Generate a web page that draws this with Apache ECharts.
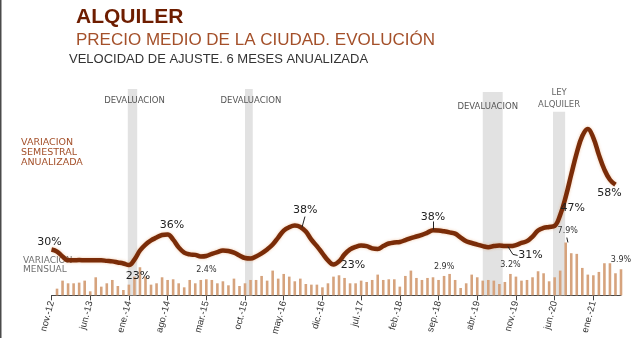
<!DOCTYPE html>
<html><head><meta charset="utf-8">
<script src="https://cdn.jsdelivr.net/npm/echarts@6/dist/echarts.min.js"></script>
<style>html,body{margin:0;padding:0;background:#fff;}#c{width:640px;height:338px;}</style>
</head><body><div id="c"></div>
<script>
// ---- categories: monthly, nov-12 .. jun-21
const MONTH_NAMES = ['ene','feb','mar','abr','may','jun','jul','ago','sep','oct','nov','dic'];
const FIRST_MONTH = 10, FIRST_YEAR = 2012, N_MONTHS = 104;
const categories = [];
for (let k = 0; k < N_MONTHS; k++) {
  const m = (FIRST_MONTH + k) % 12, y = FIRST_YEAR + Math.floor((FIRST_MONTH + k) / 12);
  categories.push(MONTH_NAMES[m] + '.-' + String(y).slice(2));
}

// ---- Variación semestral anualizada (%), nov-12 .. may-21
const semestral = [
 28.7,27.9,26.0,24.5,24.5,24.6,24.5,24.5,24.5,24.5,24.3,24.1,23.7,23.3,22.7,
 24.8,28.3,30.6,32.2,33.3,34.3,34.5,32.5,29.5,27.5,26.8,26.6,26.0,26.2,27.0,
 27.7,28.3,28.1,27.5,26.4,25.4,25.2,26.0,27.2,28.7,30.6,33.3,36.0,37.3,37.9,
 37.4,35.6,32.5,30.0,27.2,24.5,22.9,24.1,26.8,28.7,29.7,30.2,30.0,29.1,28.9,
 30.0,31.0,31.4,31.6,32.3,33.1,33.7,34.3,35.2,36.1,36.0,35.7,35.3,34.8,33.3,
 31.9,31.2,30.6,30.0,29.6,30.0,30.2,30.0,30.0,30.4,31.2,31.9,33.7,36.0,37.0,
 37.4,37.8,42.0,49.0,57.6,66.0,72.5,75.2,71.8,65.2,59.5,55.6,53.7
];
// ---- Variación mensual (%), dic-12 .. jun-21
const mensual = [
 1.0,2.2,1.8,1.8,1.9,2.2,0.6,2.7,1.3,1.8,2.3,1.4,0.8,1.6,2.8,4.2,2.8,1.6,1.8,2.7,
 2.3,2.4,1.8,1.2,2.3,1.8,2.3,2.4,2.3,1.8,2.1,1.5,2.5,1.4,1.8,2.3,2.3,2.9,2.2,3.7,
 2.5,3.2,2.8,2.1,2.5,1.7,1.6,1.6,1.2,1.8,2.8,3.0,2.6,1.8,1.8,2.2,2.0,2.3,3.1,2.3,
 2.4,2.4,1.3,2.9,3.7,2.6,2.3,2.6,2.7,2.3,2.9,3.2,2.3,1.1,1.8,3.1,2.7,2.2,2.3,2.2,
 1.7,2.0,3.2,2.8,2.2,2.3,2.7,3.6,3.3,2.1,2.7,3.7,7.9,6.3,6.2,4.1,3.1,3.0,3.5,4.8,
 4.8,3.3,3.9
];
// ---- point labels
const lineLabelIdx  = [0, 20, 14, 45, 51, 69, 82, 93, 102];
const lineLabelText = ['30%','36%','23%','38%','23%','38%','31%','47%','58%'];
const barLabelIdx   = [28, 71, 83, 93, 103];
const barLabelText  = ['2.4%','2.9%','3.2%','7.9%','3.9%'];
// ---- events (month position, fractional index from nov-12)
const eventNames = ['DEVALUACION','DEVALUACION','DEVALUACION','LEY\nALQUILER'];
const eventStart = [13.8, 35.0, 78.0, 90.7];
const eventEnd   = [15.5, 36.4, 81.6, 92.9];

// ---- styling / layout (not data)
const lineLabelOffsets = {0:[-2,-7],20:[10,-10],14:[9,11],45:[5,-17],51:[19.5,1],69:[0,-13],82:[25.5,9.5],93:[7,11],102:[-6,8]};
const bandTops = [90.6, 90.6, 89.5, 81.8];
// leader lines for labels (x: month position, y: semestral-axis units)
const leaders = [
  [[45.84, 41.4], [45.3, 37.2]],
  [[69.0, 39.5], [69.0, 36.4]],
  [[82.55, 29.85], [83.45, 26.8]],
  [[83.45, 26.8], [84.3, 26.4]],
  [[93.2, 33.3], [93.4, 31.4]]
];

const lineData = semestral.map((v, i) => {
  const k = lineLabelIdx.indexOf(i);
  if (k < 0) return v;
  return { value: v, label: { show: true, formatter: lineLabelText[k] } };
});
const barData = [null].concat(mensual).map((v, i) => {
  const k = barLabelIdx.indexOf(i);
  if (k < 0) return v;
  return { value: v, label: { show: true, formatter: barLabelText[k] } };
});

const bands = eventNames.map((n, k) => {
  const lbl = k === 3
    ? { position: 'top', distance: 1, lineHeight: 12, color: '#666' }
    : { position: 'insideTop', distance: k === 2 ? 10.5 : 7, offset: [k === 2 ? -5 : 2, 0] };
  return [{ name: n, xAxis: eventStart[k], yAxis: bandTops[k], label: lbl }, { xAxis: eventEnd[k], yAxis: 11 }];
});

const chart = echarts.init(document.getElementById('c'), null, { renderer: 'canvas' });
const FONT = 'DejaVu Sans';
chart.setOption({
  animation: false,
  backgroundColor: '#fff',
  grid: { left: 51.5, right: 19, top: 88, bottom: 42 },
  xAxis: [{
    type: 'category', data: categories, boundaryGap: false,
    axisLine: { lineStyle: { color: '#444', width: 1 } },
    axisTick: { interval: 6, length: 5, lineStyle: { color: '#444' } },
    axisLabel: { interval: 6, rotate: 75, color: '#333', fontFamily: 'Liberation Sans', fontSize: 9.5, margin: 6 },
    splitLine: { show: false }
  }, {
    type: 'value', min: 0, max: N_MONTHS - 1, show: false
  }],
  yAxis: [
    { type: 'value', min: 11, max: 91, show: false },
    { type: 'value', min: 0, max: 31, show: false }
  ],
  series: [{
    type: 'line', xAxisIndex: 1, yAxisIndex: 0, data: [], silent: true, z: 1,
    markArea: {
      silent: true,
      itemStyle: { color: '#e2e2e2' },
      label: { show: true, color: '#555', fontFamily: FONT, fontSize: 8.5 },
      data: bands
    }
  }, {
    type: 'bar', xAxisIndex: 0, yAxisIndex: 1, data: barData, barWidth: 2.6, z: 2,
    itemStyle: { color: '#D6A37D' },
    label: { show: false, position: 'top', distance: 5, color: '#333', fontFamily: FONT, fontSize: 8 },
    labelLayout: p => p.dataIndex === 93 ? { dx: 2, dy: -3 } : {}
  }, {
    type: 'line', xAxisIndex: 0, yAxisIndex: 0, data: lineData, z: 3,
    smooth: 0.4, showSymbol: true, showAllSymbol: true, symbol: 'circle', symbolSize: 0,
    lineStyle: { color: '#7A2C08', width: 4.5, shadowColor: 'rgba(225,130,60,0.45)', shadowBlur: 3 },
    itemStyle: { color: 'rgba(0,0,0,0)' },
    label: { show: false, position: 'inside', color: '#222', fontFamily: FONT, fontSize: 11 },
    labelLayout: p => { const o = lineLabelOffsets[p.dataIndex]; return o ? { dx: o[0], dy: o[1] } : {}; }
  }, {
    type: 'line', xAxisIndex: 1, yAxisIndex: 0, data: [], silent: true, z: 4,
    markLine: {
      silent: true, symbol: 'none', animation: false,
      lineStyle: { color: '#222', width: 1, type: 'solid' },
      label: { show: false },
      data: leaders.map(s => [{ coord: s[0] }, { coord: s[1] }])
    }
  }],
  graphic: [
    { type: 'rect', left: 0, top: 0, shape: { width: 1.5, height: 338 }, style: { fill: '#4a4a4a' } },
    { type: 'text', x: 76, y: 17.5, style: { text: 'ALQUILER', font: 'bold 21px "Liberation Sans"', fill: '#6E1D00', verticalAlign: 'middle' } },
    { type: 'text', x: 76, y: 40, style: { text: 'PRECIO MEDIO DE LA CIUDAD. EVOLUCIÓN', font: '17px "Liberation Sans"', fill: '#A4502A', verticalAlign: 'middle' } },
    { type: 'text', x: 69, y: 59, style: { text: 'VELOCIDAD DE AJUSTE. 6 MESES ANUALIZADA', font: '13px "Liberation Sans"', fill: '#333', verticalAlign: 'middle' } },
    { type: 'text', x: 21, y: 138, style: { text: 'VARIACION\nSEMESTRAL\nANUALIZADA', font: '9.5px "DejaVu Sans"', lineHeight: 10, fill: '#A4502A' } },
    { type: 'text', x: 23, y: 256.5, style: { text: 'VARIACION\nMENSUAL', font: '9px "DejaVu Sans"', lineHeight: 9, fill: '#707070' } }
  ]
});
</script></body></html>
